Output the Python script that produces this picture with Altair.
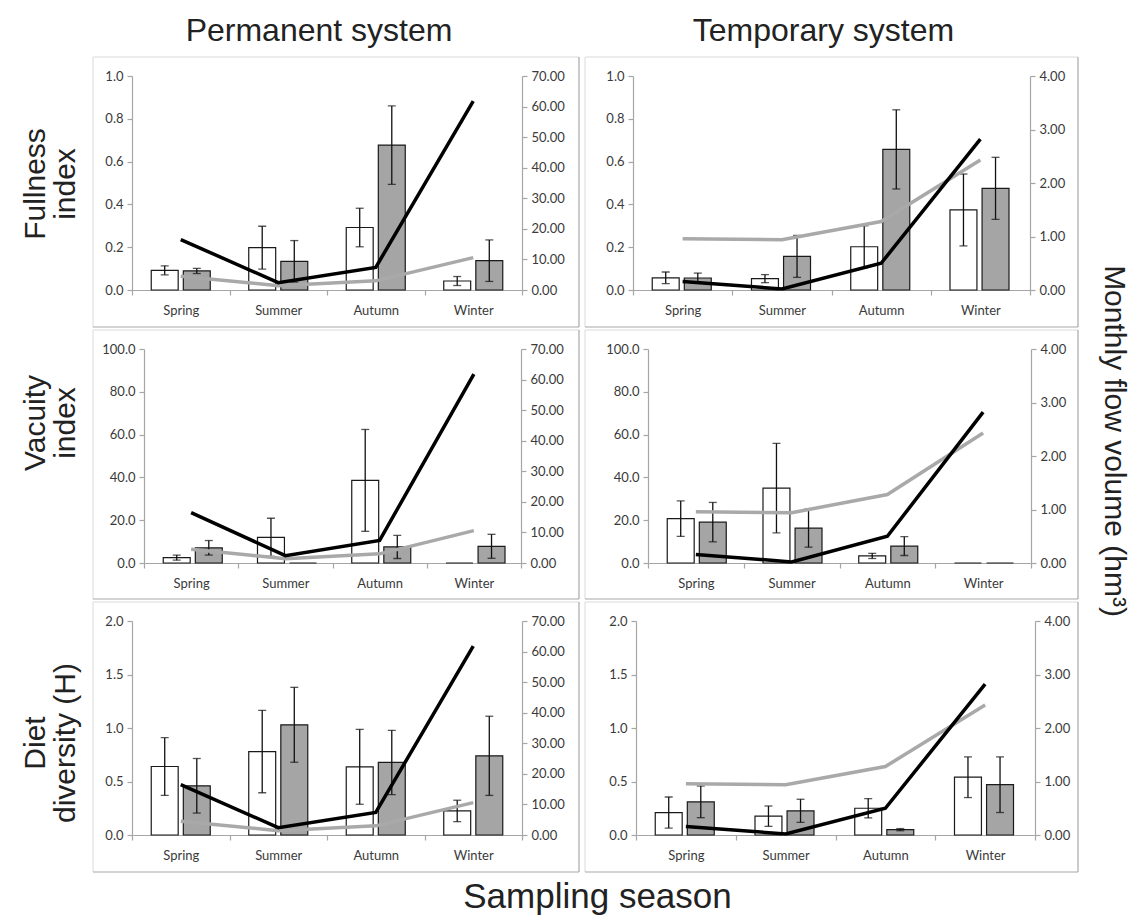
import altair as alt
import pandas as pd

seasons = ["Spring", "Summer", "Autumn", "Winter"]
groups = ["white", "grey"]

# ---------------- Permanent system ----------------
perm_full_white = [0.092, 0.198, 0.292, 0.042]
perm_full_white_err = [0.021, 0.100, 0.090, 0.021]
perm_full_grey = [0.089, 0.134, 0.677, 0.137]
perm_full_grey_err = [0.012, 0.097, 0.183, 0.097]

perm_vac_white = [2.5, 12.0, 38.6, 0.0]
perm_vac_white_err = [1.2, 8.9, 23.8, 0.0]
perm_vac_grey = [7.1, 0.0, 7.5, 7.8]
perm_vac_grey_err = [3.4, 0.0, 5.4, 5.6]

perm_div_white = [0.64, 0.78, 0.637, 0.225]
perm_div_white_err = [0.27, 0.385, 0.35, 0.10]
perm_div_grey = [0.46, 1.03, 0.678, 0.74]
perm_div_grey_err = [0.255, 0.35, 0.30, 0.37]

perm_flow_black = [16.5, 2.4, 7.4, 61.8]
perm_flow_grey = [4.5, 1.4, 3.0, 10.6]

# ---------------- Temporary system ----------------
temp_full_white = [0.057, 0.053, 0.202, 0.374]
temp_full_white_err = [0.027, 0.019, 0.098, 0.168]
temp_full_grey = [0.056, 0.157, 0.657, 0.475]
temp_full_grey_err = [0.023, 0.098, 0.185, 0.145]

temp_vac_white = [20.7, 35.0, 3.3, 0.0]
temp_vac_white_err = [8.3, 20.9, 1.2, 0.0]
temp_vac_grey = [19.1, 16.3, 7.9, 0.0]
temp_vac_grey_err = [9.2, 8.9, 4.4, 0.0]

temp_div_white = [0.21, 0.176, 0.25, 0.54]
temp_div_white_err = [0.145, 0.095, 0.09, 0.19]
temp_div_grey = [0.31, 0.226, 0.05, 0.47]
temp_div_grey_err = [0.148, 0.108, 0.01, 0.26]

temp_flow_black = [0.16, 0.02, 0.50, 2.82]
temp_flow_grey = [0.96, 0.94, 1.28, 2.43]

row_titles = [["Fullness", "index"], ["Vacuity", "index"], ["Diet", "diversity (H)"]]
col_titles = ["Permanent system", "Temporary system"]
flow_title = "Monthly flow volume (hm³)"
x_title = "Sampling season"

TITLE_FONT = "Liberation Sans"
LABEL_FONT = "Lato"
AX_COLOR = "#A6A6A6"
LABEL_COLOR = "#3A3A3A"
TEXT_COLOR = "#222222"
dummy = pd.DataFrame({"k": [0]})


def box_rules(w, h, left, right, top, bottom):
    c1 = "#A8A8A8"
    c2 = "#DADADA"
    r_right = alt.Chart(dummy).mark_rule(color=c1, strokeWidth=1.2).encode(
        x=alt.value(w + right), y=alt.value(top), y2=alt.value(h + bottom))
    r_bottom = alt.Chart(dummy).mark_rule(color=c1, strokeWidth=1.2).encode(
        x=alt.value(left), x2=alt.value(w + right), y=alt.value(h + bottom))
    r_left = alt.Chart(dummy).mark_rule(color=c2, strokeWidth=1).encode(
        x=alt.value(left), y=alt.value(top), y2=alt.value(h + bottom))
    r_top = alt.Chart(dummy).mark_rule(color=c2, strokeWidth=1).encode(
        x=alt.value(left), x2=alt.value(w + right), y=alt.value(top))
    return [r_left, r_top, r_right, r_bottom]


AXIS_STYLE = dict(domainColor=AX_COLOR, tickColor=AX_COLOR, labelFont=LABEL_FONT,
                  labelFontSize=13, labelColor=LABEL_COLOR, grid=False, tickSize=5,
                  domainWidth=1.2, tickWidth=1.2)


def panel(white, white_err, grey, grey_err, flow_black, flow_grey,
          yvals, y2vals, width, height, box, title=None):
    bars = pd.DataFrame({
        "season": seasons * 2,
        "grp": ["white"] * 4 + ["grey"] * 4,
        "value": white + grey,
        "err": white_err + grey_err,
    })
    bars["lo"] = bars["value"] - bars["err"]
    bars["hi"] = bars["value"] + bars["err"]
    flow = pd.DataFrame({"season": seasons, "black": flow_black, "grey": flow_grey})

    xaxis = alt.Axis(title=None, labelAngle=0, tickBand="extent", labelPadding=9, **AXIS_STYLE)
    X = alt.X("season:N", sort=seasons,
              scale=alt.Scale(domain=seasons, paddingInner=0, paddingOuter=0),
              axis=xaxis)
    XO = alt.XOffset("grp:N", sort=groups,
                     scale=alt.Scale(domain=groups, paddingInner=0.16, paddingOuter=0.6))

    yaxis = alt.Axis(values=yvals, format=".1f", labelPadding=4, title=None, **AXIS_STYLE)
    yscale = alt.Scale(domain=[yvals[0], yvals[-1]], nice=False)

    base = alt.Chart(bars)
    bar = base.mark_bar(stroke="#1a1a1a", strokeWidth=1.2).encode(
        x=X, xOffset=XO,
        y=alt.Y("value:Q", scale=yscale, axis=yaxis),
        color=alt.Color("grp:N", scale=alt.Scale(domain=groups, range=["#ffffff", "#A5A5A5"]),
                        legend=None),
    )
    ebase = base.transform_filter("datum.err > 0")
    err = ebase.mark_rule(color="#111111", strokeWidth=1.3).encode(
        x=X, xOffset=XO, y=alt.Y("lo:Q", scale=yscale, axis=yaxis), y2="hi:Q")
    cap_lo = ebase.mark_tick(color="#111111", thickness=1.3, size=8).encode(
        x=X, xOffset=XO, y=alt.Y("lo:Q", scale=yscale, axis=yaxis))
    cap_hi = ebase.mark_tick(color="#111111", thickness=1.3, size=8).encode(
        x=X, xOffset=XO, y=alt.Y("hi:Q", scale=yscale, axis=yaxis))
    left = alt.layer(bar, err, cap_lo, cap_hi)

    y2axis = alt.Axis(orient="right", values=y2vals, format=".2f", title=None,
                      labelPadding=4, **AXIS_STYLE)
    y2scale = alt.Scale(domain=[y2vals[0], y2vals[-1]], nice=False)
    fbase = alt.Chart(flow)
    lgrey = fbase.mark_line(color="#A9A9A9", strokeWidth=3.5).encode(
        x=X, y=alt.Y("grey:Q", scale=y2scale, axis=y2axis))
    lblack = fbase.mark_line(color="#000000", strokeWidth=3.5).encode(
        x=X, y=alt.Y("black:Q", scale=y2scale, axis=y2axis))
    right = alt.layer(lgrey, lblack)

    ch = alt.layer(left, right, *box_rules(width, height, *box)).resolve_scale(y="independent")
    props = dict(width=width, height=height)
    if title is not None:
        props["title"] = alt.TitleParams(title, font=TITLE_FONT, fontSize=32,
                                         fontWeight="normal", color=TEXT_COLOR,
                                         frame="group", anchor="middle", offset=8, dx=-8)
    return ch.properties(**props)


def row_label(lines, ypos, height):
    layers = []
    for i, line in enumerate(lines):
        layers.append(alt.Chart(dummy).mark_text(
            text=line, angle=270, font=TITLE_FONT, fontSize=30,
            color=TEXT_COLOR, align="center", baseline="middle",
        ).encode(x=alt.value(31 + 30 * i), y=alt.value(ypos)))
    return alt.layer(*layers).properties(width=83, height=height)


full_vals = [0.0, 0.2, 0.4, 0.6, 0.8, 1.0]
vac_vals = [0.0, 20.0, 40.0, 60.0, 80.0, 100.0]
div_vals = [0.0, 0.5, 1.0, 1.5, 2.0]
perm_flow_vals = [0, 10, 20, 30, 40, 50, 60, 70]
temp_flow_vals = [0, 1, 2, 3, 4]

H = 214
p11 = panel(perm_full_white, perm_full_white_err, perm_full_grey, perm_full_grey_err,
            perm_flow_black, perm_flow_grey, full_vals, perm_flow_vals, 390, H,
            (-39, 57, -19, 37), title=col_titles[0])
p12 = panel(temp_full_white, temp_full_white_err, temp_full_grey, temp_full_grey_err,
            temp_flow_black, temp_flow_grey, full_vals, temp_flow_vals, 397, H,
            (-48, 48, -19, 37), title=col_titles[1])
p21 = panel(perm_vac_white, perm_vac_white_err, perm_vac_grey, perm_vac_grey_err,
            perm_flow_black, perm_flow_grey, vac_vals, perm_flow_vals, 377, H,
            (-51, 58, -19, 36))
p22 = panel(temp_vac_white, temp_vac_white_err, temp_vac_grey, temp_vac_grey_err,
            temp_flow_black, temp_flow_grey, vac_vals, temp_flow_vals, 383, H,
            (-63, 47, -19, 36))
p31 = panel(perm_div_white, perm_div_white_err, perm_div_grey, perm_div_grey_err,
            perm_flow_black, perm_flow_grey, div_vals, perm_flow_vals, 390, H,
            (-39, 57, -19, 37))
p32 = panel(temp_div_white, temp_div_white_err, temp_div_grey, temp_div_grey_err,
            temp_flow_black, temp_flow_grey, div_vals, temp_flow_vals, 399, H,
            (-51, 43, -19, 37))

row1 = alt.hconcat(row_label(row_titles[0], 108, H), p11, p12, spacing=4)
row2 = alt.hconcat(row_label(row_titles[1], 74, H), p21, p22, spacing=4)
row3 = alt.hconcat(row_label(row_titles[2], 122, H), p31, p32, spacing=4)
grid = alt.vconcat(row1, row2, row3, spacing=1)

flow_label = alt.Chart(dummy).mark_text(
    text=flow_title, angle=90, font=TITLE_FONT, fontSize=30,
    color=TEXT_COLOR, align="center", baseline="middle",
).encode(x=alt.value(8), y=alt.value(365)).properties(width=30, height=700)

chart = alt.hconcat(grid, flow_label, spacing=20).properties(
    title=alt.TitleParams(x_title, orient="bottom", font=TITLE_FONT,
                          fontSize=35, fontWeight="normal", color=TEXT_COLOR,
                          anchor="middle", offset=7, dx=27),
    padding={"left": 5, "top": 15, "right": 5, "bottom": 5},
    background="white",
).configure_view(stroke=None)

chart.save("out.html", embed_options={"renderer": "svg", "actions": False})
